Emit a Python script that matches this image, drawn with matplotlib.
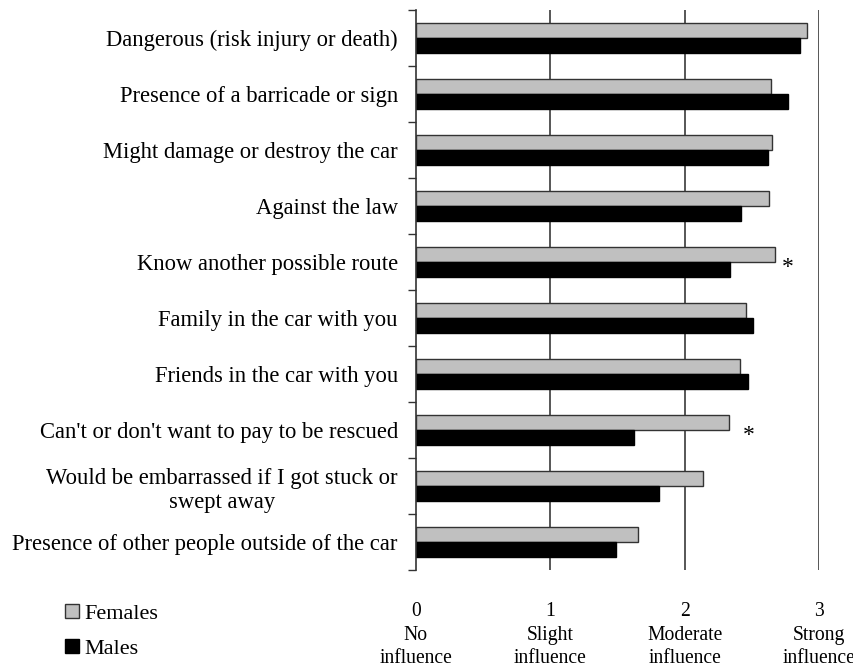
import numpy as np
import matplotlib.pyplot as plt
from matplotlib.patches import Patch

plt.rcParams['font.family'] = ['Liberation Serif', 'DejaVu Serif']

# Datos (0 = sin influencia, 3 = fuerte influencia)
categories = [
    "Dangerous (risk injury or death)",
    "Presence of a barricade or sign",
    "Might damage or destroy the car",
    "Against the law",
    "Know another possible route",
    "Family in the car with you",
    "Friends in the car with you",
    "Can't or don't want to pay to be rescued",
    "Would be embarrassed if I got stuck or\nswept away",
    "Presence of other people outside of the car",
]
females = [2.91, 2.64, 2.65, 2.63, 2.67, 2.46, 2.41, 2.33, 2.14, 1.65]
males = [2.86, 2.77, 2.62, 2.42, 2.34, 2.51, 2.47, 1.62, 1.81, 1.49]
significant = [4, 7]          # categorías con diferencia significativa
star_x = [2.77, 2.48]

xtick_labels = ["0\nNo\ninfluence", "1\nSlight\ninfluence",
                "2\nModerate\ninfluence", "3\nStrong\ninfluence"]

fig = plt.figure(figsize=(8.54, 6.67), dpi=100)
ax = fig.add_axes([0.487, 0.1454, 0.472, 0.8396])

y = np.arange(len(categories))
h = 0.26
gray = '#c0c0c0'

# Líneas verticales de referencia
for gx in [1, 2, 3]:
    ax.axvline(gx, color='#3a3a3a', lw=1.2, zorder=0)

ax.barh(y - h / 2, females, height=h, color=gray, edgecolor='#333333',
        linewidth=1.0, zorder=2)
ax.barh(y + h / 2, males, height=h, color='black', edgecolor='black',
        linewidth=1.0, zorder=2)

for idx, sx in zip(significant, star_x):
    ax.text(sx, idx + 0.1, "*", ha='center', va='center', fontsize=17)

ax.set_xlim(0, 3)
ax.set_ylim(len(categories) - 0.5, -0.5)

# Marcas del eje y en los límites entre categorías, etiquetas en el centro
ax.set_yticks(np.arange(-0.5, len(categories) + 0.5, 1))
ax.set_yticklabels([])
ax.tick_params(axis='y', which='major', length=6, width=1.0, color='#333333')
ax.set_yticks(y, minor=True)
ax.set_yticklabels(categories, minor=True, fontsize=16.3,
                   multialignment='center')
ax.tick_params(axis='y', which='minor', length=0, pad=13)

ax.set_xticks([0, 1, 2, 3])
ax.set_xticklabels(xtick_labels, fontsize=14.1, linespacing=1.33)
ax.tick_params(axis='x', length=0, pad=23)

for s in ['top', 'right', 'bottom']:
    ax.spines[s].set_visible(False)
ax.spines['left'].set_color('#333333')
ax.spines['left'].set_linewidth(1.2)

handles = [Patch(facecolor=gray, edgecolor='#333333', label='Females'),
           Patch(facecolor='black', edgecolor='black', label='Males')]
fig.legend(handles=handles, loc='upper left', bbox_to_anchor=(0.053, 0.125),
           frameon=False, fontsize=16, handlelength=0.6, handleheight=0.6,
           handletextpad=0.25, labelspacing=0.7)

plt.savefig('out.png', dpi=100)
